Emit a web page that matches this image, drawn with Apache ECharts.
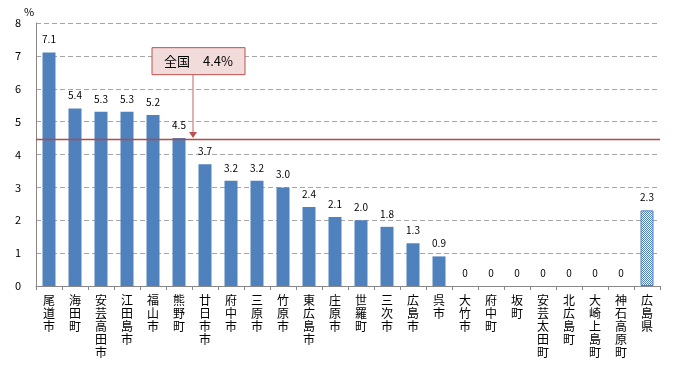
<!DOCTYPE html>
<html><head><meta charset="utf-8">
<script src="https://cdn.jsdelivr.net/npm/echarts@6/dist/echarts.min.js"></script>
<style>html,body{margin:0;padding:0;background:#fff}#c{width:690px;height:365px}</style>
</head><body><div id="c"></div>
<script>
var categories = ["尾道市","海田町","安芸高田市","江田島市","福山市","熊野町","廿日市市","府中市","三原市","竹原市","東広島市","庄原市","世羅町","三次市","広島市","呉市","大竹市","府中町","坂町","安芸太田町","北広島町","大崎上島町","神石高原町","広島県"];
var values = [7.1,5.4,5.3,5.3,5.2,4.5,3.7,3.2,3.2,3.0,2.4,2.1,2.0,1.8,1.3,0.9,0,0,0,0,0,0,0,2.3];
var labels = ["7.1","5.4","5.3","5.3","5.2","4.5","3.7","3.2","3.2","3.0","2.4","2.1","2.0","1.8","1.3","0.9","0","0","0","0","0","0","0","2.3"];
var nationalValue = 4.47;
var nationalLabel = "全国　4.4%";
var yTicks = [0,1,2,3,4,5,6,7,8];

var FONT = '"Noto Sans CJK JP", sans-serif';
var pc = document.createElement('canvas'); pc.width = 4; pc.height = 4;
var g = pc.getContext('2d');
g.fillStyle = '#ffffff'; g.fillRect(0,0,4,4);
g.fillStyle = '#4F81BD';
for (var i=0;i<4;i++) for (var j=0;j<4;j++) if ((i+j)%2===0) g.fillRect(i,j,1,1);

var chart = echarts.init(document.getElementById('c'), null, {renderer:'canvas'});
var data = values.map(function(v, i){
  var d = {value: v, label: {formatter: labels[i]}};
  if (i === values.length - 1) {
    d.itemStyle = {color: {image: pc, repeat: 'repeat'}, borderColor: '#4F81BD', borderWidth: 1};
  }
  return d;
});
chart.setOption({
  animation: false,
  grid: {left: 36, right: 30, top: 23, bottom: 79},
  xAxis: {
    type: 'category', data: categories,
    axisLine: {lineStyle: {color: '#888888'}},
    axisTick: {show: true, length: 4, lineStyle: {color: '#888888'}},
    axisLabel: {interval: 0, color: '#000', fontFamily: FONT, fontSize: 12, lineHeight: 13, margin: 8,
      formatter: function(v){ return v.split('').join('\n'); }}
  },
  yAxis: {
    type: 'value', min: 0, max: 8, interval: 1,
    name: '%', nameLocation: 'end', nameGap: 6,
    nameTextStyle: {color: '#000', fontFamily: FONT, fontSize: 11, align: 'left', padding: [0,0,0,-12]},
    axisLine: {show: true, lineStyle: {color: '#888888'}},
    axisTick: {show: false},
    axisLabel: {color: '#000', fontFamily: FONT, fontSize: 11, margin: 15,
      formatter: function(v){ return yTicks.indexOf(v) >= 0 ? String(v) : ''; }},
    splitLine: {lineStyle: {color: '#A6A6A6', type: [5,3]}}
  },
  series: [{
    type: 'bar', data: data, barWidth: 13,
    itemStyle: {color: '#4F81BD'},
    label: {show: true, position: 'top', distance: 8, color: '#000', fontFamily: FONT, fontSize: 10},
    markLine: {
      silent: true, symbol: 'none',
      lineStyle: {color: '#B7474A', width: 1.3, type: 'solid', opacity: 1},
      emphasis: {disabled: true},
      label: {show: false},
      data: [{yAxis: nationalValue, lineStyle: {color: '#B7474A'}}]
    }
  }]
});

// annotation callout
var p5 = chart.convertToPixel({gridIndex: 0}, [5, 7.25]);
var p6 = chart.convertToPixel({gridIndex: 0}, [6, nationalValue]);
var xArrow = (p5[0] + p6[0]) / 2 + 1;
var yBoxTop = p5[1];
var yLine = p6[1];
var boxW = 93, boxH = 27;
chart.setOption({
  graphic: [
    {type: 'line', shape: {x1: xArrow, y1: yBoxTop + boxH, x2: xArrow, y2: yLine - 5},
      style: {stroke: '#D99694', lineWidth: 1.5}, z: 100},
    {type: 'polygon', shape: {points: [[xArrow-4, yLine-7], [xArrow+4, yLine-7], [xArrow, yLine-1]]},
      style: {fill: '#C0504D'}, z: 100},
    {type: 'rect', shape: {x: xArrow - 41, y: yBoxTop, width: boxW, height: boxH},
      style: {fill: '#F2DCDB', stroke: '#C0504D', lineWidth: 1}, z: 100},
    {type: 'text', x: xArrow - 41 + boxW/2, y: yBoxTop + boxH/2,
      style: {text: nationalLabel, fill: '#000', font: '13px ' + FONT, align: 'center', verticalAlign: 'middle'}, z: 101}
  ]
});
</script></body></html>
